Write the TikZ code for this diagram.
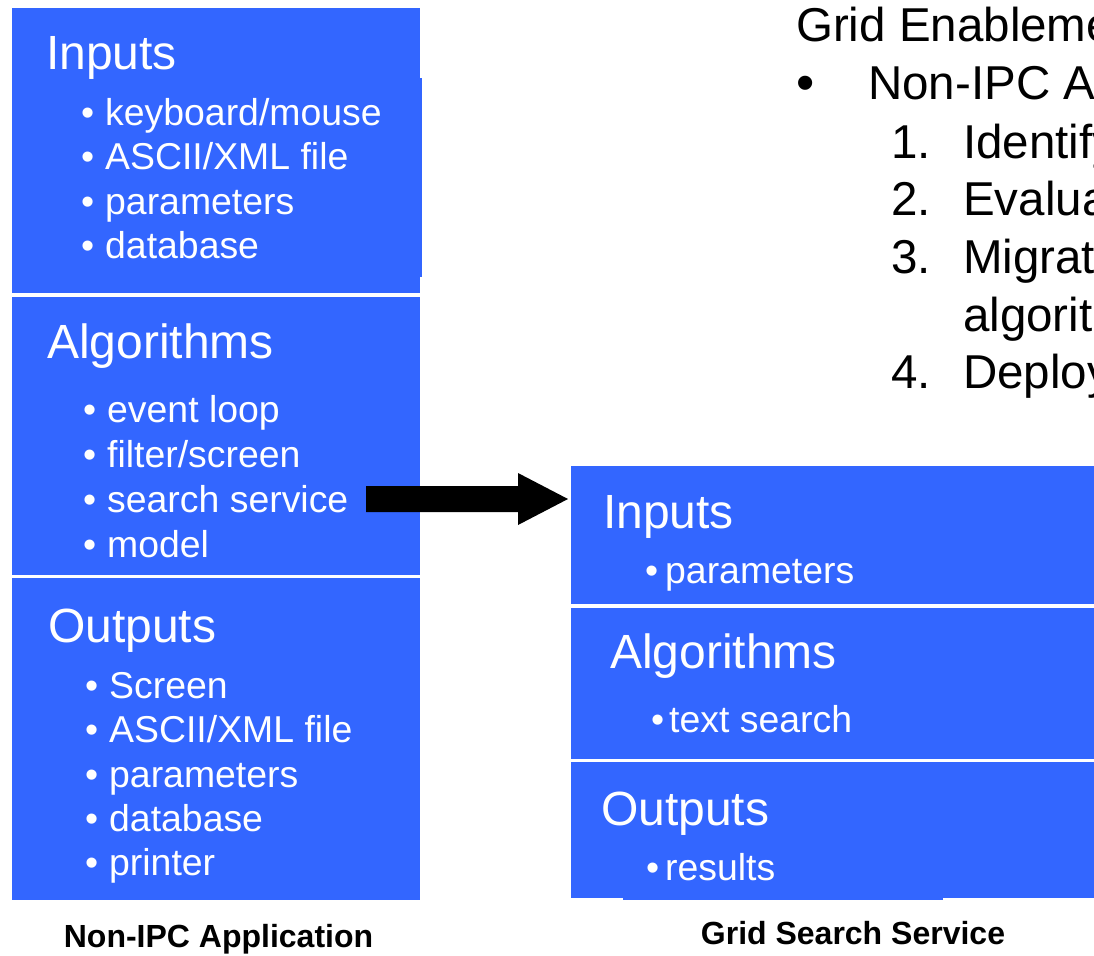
\documentclass[tikz,border=0pt]{standalone}
\usepackage{fontspec}
\setmainfont{Liberation Sans}
\usetikzlibrary{calc}
\definecolor{boxblue}{RGB}{51,102,255}
\tikzset{
  panel/.style={rectangle, fill=boxblue, draw=none, inner sep=0pt, outer sep=0pt, anchor=north west},
  head/.style={anchor=base west, inner sep=0pt, text=white, font=\fontsize{48}{48}\selectfont},
  entry/.style={anchor=base west, inner sep=0pt, text=white, font=\fontsize{37.4}{37.4}\selectfont},
  caption/.style={anchor=base, inner sep=0pt, font=\bfseries\fontsize{32}{32}\selectfont},
  outline/.style={anchor=base west, inner sep=0pt, font=\fontsize{47.5}{47.5}\selectfont},
}
% #1 name, #2 bullet x, #3 text x, #4 baseline, #5 style, #6 text
\newcommand\bulletitem[6]{%
  \node[#5] (#1) at (#2,#4) {\makebox[\dimexpr#3pt-#2pt\relax][l]{•}#6};}

\begin{document}
\begin{tikzpicture}[x=1pt,y=-1pt]
\useasboundingbox (0,0) rectangle (1094,955);
\clip (0,0) rectangle (1094,955);

% ---- Non-IPC application: three stacked panels
\node[panel, minimum width=408pt, minimum height=285pt] (li) at (12,8) {};
\fill[boxblue] (420,78) rectangle (422,277);
\node[panel, minimum width=408pt, minimum height=278pt] (la) at (12,297) {};
\node[panel, minimum width=408pt, minimum height=322pt] (lo) at (12,578) {};

\node[head] (liT) at (46,70) {Inputs};
\bulletitem{li1}{81}{105}{125}{entry}{keyboard/mouse}
\bulletitem{li2}{81}{105}{169.5}{entry}{ASCII/XML file}
\bulletitem{li3}{81}{105}{214}{entry}{parameters}
\bulletitem{li4}{81}{105}{258.5}{entry}{database}

\node[head] (laT) at (47,358) {Algorithms};
\bulletitem{la1}{83}{107}{422}{entry}{event loop}
\bulletitem{la2}{83}{107}{467}{entry}{filter/screen}
\bulletitem{la3}{83}{107}{512}{entry}{search service}
\bulletitem{la4}{83}{107}{557}{entry}{model}

\node[head] (loT) at (48,642) {Outputs};
\bulletitem{lo1}{85}{109}{698}{entry}{Screen}
\bulletitem{lo2}{85}{109}{742}{entry}{ASCII/XML file}
\bulletitem{lo3}{85}{109}{787}{entry}{parameters}
\bulletitem{lo4}{85}{109}{831}{entry}{database}
\bulletitem{lo5}{85}{109}{875}{entry}{printer}

\node[caption] (lcap) at (218.5,947) {Non-IPC Application};

% ---- Grid search service: three stacked panels
\node[panel, minimum width=540pt, minimum height=138pt] (ri) at (571,466) {};
\node[panel, minimum width=540pt, minimum height=151pt] (ra) at (571,608) {};
\node[panel, minimum width=540pt, minimum height=136pt] (ro) at (571,762) {};
\fill[boxblue] (623,897) rectangle (943,900);

\node[head] (riT) at (603,528) {Inputs};
\bulletitem{ri1}{645}{665}{583}{entry}{parameters}
\node[head] (raT) at (610,668) {Algorithms};
\bulletitem{ra1}{651}{669}{732}{entry}{text search}
\node[head] (roT) at (601,825) {Outputs};
\bulletitem{ro1}{646}{665}{880}{entry}{results}

\node[caption] (rcap) at (853,944) {Grid Search Service};

% ---- migration arrow
\coordinate (atail) at (366,499);
\path (ri.west) ++(-3,0) coordinate (tx);
\coordinate (atip) at (tx |- atail);
\fill[black] ($(atail)+(0,-13)$) -- ($(atip)+(-50,-13)$) -- ($(atip)+(-50,-26)$)
  -- (atip) -- ($(atip)+(-50,26)$) -- ($(atip)+(-50,13)$) -- ($(atail)+(0,13)$) -- cycle;

% ---- outline text
\node[outline] (o0) at (796,42) {Grid Enablement};
\node[outline, font=\fontsize{52}{52}\selectfont] (o1b) at (796,101) {•};
\node[outline] (o1) at (868,100) {Non-IPC Application};
\node[outline] (n1) at (891,158) {1.};
\node[outline] (s1) at (963,158) {Identify};
\node[outline] (n2) at (891,215) {2.};
\node[outline] (s2) at (963,215) {Evaluate};
\node[outline] (n3) at (891,273) {3.};
\node[outline] (s3) at (963,273) {Migrate};
\node[outline] (s3b) at (963,331) {algorithms};
\node[outline] (n4) at (891,388) {4.};
\node[outline] (s4) at (963,388) {Deploy};
\end{tikzpicture}
\end{document}
